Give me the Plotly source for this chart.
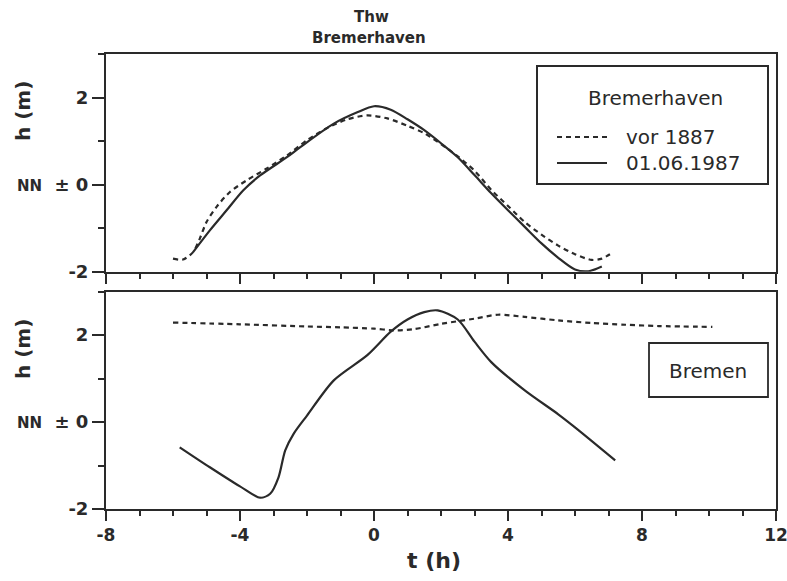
import plotly.graph_objects as go

# ---- data ----
bhv_old_t = [-6.0, -5.7, -5.4, -5.2, -5.0, -4.7, -4.3, -3.8, -3.2, -2.6, -2.0, -1.4, -0.8,
             -0.2, 0.4, 1.0, 1.5, 2.0, 2.5, 3.0, 3.5, 4.0, 4.5, 5.0, 5.5, 6.0, 6.5, 6.8, 7.1]
bhv_old_h = [-1.70, -1.72, -1.55, -1.24, -0.86, -0.51, -0.17, 0.10, 0.37, 0.67, 1.02, 1.30, 1.50,
             1.59, 1.52, 1.35, 1.18, 0.93, 0.65, 0.32, -0.12, -0.49, -0.86, -1.15, -1.40, -1.60,
             -1.73, -1.70, -1.57]

bhv_new_t = [-5.4, -4.9, -4.4, -3.9, -3.4, -2.6, -2.2, -1.2, -0.5, 0.0, 0.5, 1.0, 1.5, 2.0,
             2.5, 3.0, 3.5, 4.0, 4.5, 5.0, 5.5, 6.0, 6.4, 6.8]
bhv_new_h = [-1.55, -1.05, -0.59, -0.13, 0.21, 0.63, 0.86, 1.40, 1.66, 1.80, 1.72, 1.50, 1.25,
             0.95, 0.63, 0.22, -0.20, -0.59, -0.97, -1.35, -1.68, -1.95, -1.99, -1.88]

bre_old_t = [-6.0, -4.0, -2.0, -1.0, 0.0, 0.6, 1.2, 2.0, 3.0, 3.7, 4.5, 5.5, 6.5, 7.5, 8.5, 10.1]
bre_old_h = [2.29, 2.25, 2.20, 2.18, 2.15, 2.11, 2.14, 2.26, 2.38, 2.47, 2.42, 2.34, 2.28, 2.24,
             2.21, 2.19]

bre_new_t = [-5.8, -4.9, -4.0, -3.4, -3.1, -2.85, -2.65, -2.4, -2.0, -1.2, -0.2, 0.5, 1.0, 1.5,
             1.9, 2.5, 3.0, 3.5, 4.5, 5.5, 6.0, 7.2]
bre_new_h = [-0.58, -1.04, -1.48, -1.74, -1.65, -1.27, -0.65, -0.27, 0.15, 0.96, 1.54, 2.08, 2.36,
             2.53, 2.57, 2.36, 1.85, 1.38, 0.73, 0.18, -0.12, -0.88]

x_ticks = [-8, -4, 0, 4, 8, 12]
x_ticktext = ["-8", "-4", "0", "4", "8", "12"]
y_ticks = [-2, 0, 2]
y_ticktext = ["-2", "<span style='font-size:15px'>NN</span>  ± 0", "2"]

title_lines = ["Thw", "Bremerhaven"]
legend_title = "Bremerhaven"
legend_labels = ["vor 1887", "01.06.1987"]
panel2_label = "Bremen"

# ---- figure ----
W, H = 787, 581
ML, MR, MT, MB = 106, 11, 54, 72
PW, PH = W - ML - MR, H - MT - MB
def px(x): return (x - ML) / PW
def py(y): return (H - MB - y) / PH

INK = "#2a2a2a"
FONT = "DejaVu Sans"
dash = "5px,4px"

fig = go.Figure()
fig.add_trace(go.Scatter(x=bhv_old_t, y=bhv_old_h, mode="lines", xaxis="x2", yaxis="y2",
                         line=dict(color=INK, width=2.2, dash=dash, shape="spline", smoothing=0.8)))
fig.add_trace(go.Scatter(x=bhv_new_t, y=bhv_new_h, mode="lines", xaxis="x2", yaxis="y2",
                         line=dict(color=INK, width=2.2, shape="spline", smoothing=0.8)))
fig.add_trace(go.Scatter(x=bre_old_t, y=bre_old_h, mode="lines", xaxis="x", yaxis="y",
                         line=dict(color=INK, width=2.2, dash=dash, shape="spline", smoothing=0.8)))
fig.add_trace(go.Scatter(x=bre_new_t, y=bre_new_h, mode="lines", xaxis="x", yaxis="y",
                         line=dict(color=INK, width=2.2, shape="spline", smoothing=0.8)))

xcommon = dict(range=[-8, 12], tickvals=x_ticks, ticktext=x_ticktext, ticks="outside", ticklen=10,
               tickwidth=2, tickcolor=INK, showline=True, linecolor=INK, linewidth=2, mirror=True,
               showgrid=False, zeroline=False, automargin=False, ticklabeloverflow="allow",
               minor=dict(dtick=1, tick0=0, ticks="outside", ticklen=5, tickwidth=2, tickcolor=INK,
                          showgrid=False),
               tickfont=dict(family=FONT, size=17, color=INK, weight="bold"))
ycommon = dict(range=[-2, 3], tickvals=y_ticks, ticktext=y_ticktext, ticks="outside", ticklen=12,
               tickwidth=2, tickcolor=INK, showline=True, linecolor=INK, linewidth=2, mirror=True,
               showgrid=False, zeroline=False, automargin=False, ticklabeloverflow="allow",
               minor=dict(dtick=1, tick0=0, ticks="outside", ticklen=6, tickwidth=2, tickcolor=INK,
                          showgrid=False),
               tickfont=dict(family=FONT, size=18, color=INK, weight="bold"))

top_lo = py(271.7)
bot_hi = py(291.7)

fig.update_layout(
    width=W, height=H, margin=dict(l=ML, r=MR, t=MT, b=MB, autoexpand=False),
    paper_bgcolor="white", plot_bgcolor="white", showlegend=False,
    xaxis=dict(**xcommon, domain=[0, 1], anchor="y"),
    yaxis=dict(**ycommon, domain=[0, bot_hi], anchor="x"),
    xaxis2=dict(**xcommon, domain=[0, 1], anchor="y2", matches="x", showticklabels=False),
    yaxis2=dict(**ycommon, domain=[top_lo, 1], anchor="x2"),
)

def note(x, y, text, size, bold=False, xanchor="center", angle=0):
    return dict(x=px(x), y=py(y), xref="paper", yref="paper", text=text, textangle=angle,
                xanchor=xanchor, yanchor="middle", showarrow=False,
                font=dict(family=FONT, size=size, color=INK, weight="bold" if bold else "normal"))

ann = [
    note(371, 17, title_lines[0], 15, bold=True),
    note(369, 38, title_lines[1], 15, bold=True),
    note(23, 111, "h (m)", 20, bold=True, angle=-90),
    note(23, 349, "h (m)", 20, bold=True, angle=-90),
    note(434, 560, "t (h)", 22, bold=True),
    note(655, 98, legend_title, 20),
    note(624, 137, legend_labels[0], 20, xanchor="left"),
    note(624, 163, legend_labels[1], 20, xanchor="left"),
    note(708, 371, panel2_label, 20),
]
fig.update_layout(annotations=ann)

shapes = [
    dict(type="rect", xref="paper", yref="paper", x0=px(537), x1=px(768), y0=py(66), y1=py(184),
         line=dict(color=INK, width=2)),
    dict(type="line", xref="paper", yref="paper", x0=px(557), x1=px(607), y0=py(137), y1=py(137),
         line=dict(color=INK, width=2, dash=dash)),
    dict(type="line", xref="paper", yref="paper", x0=px(557), x1=px(607), y0=py(163), y1=py(163),
         line=dict(color=INK, width=2)),
    dict(type="rect", xref="paper", yref="paper", x0=px(649), x1=px(768), y0=py(343), y1=py(397),
         line=dict(color=INK, width=1.8)),
]
fig.update_layout(shapes=shapes)

fig.write_html("out.html")
